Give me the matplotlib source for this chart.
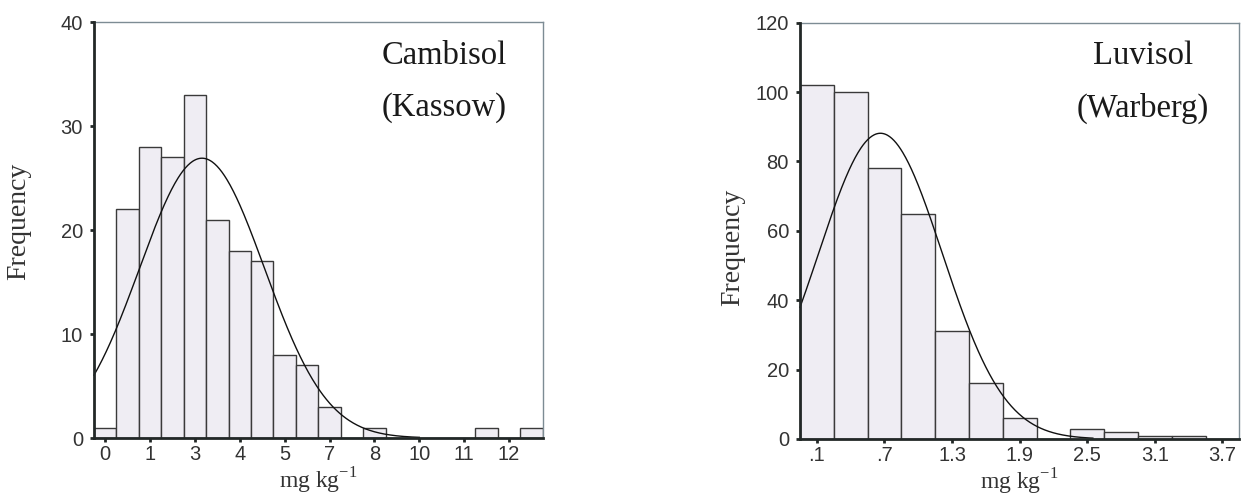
import numpy as np
import matplotlib
matplotlib.use("Agg")
import matplotlib.pyplot as plt

# ---------------- data ----------------
# Cambisol (Kassow)
left_counts = [1, 22, 28, 27, 33, 21, 18, 17, 8, 7, 3, 0, 1, 0, 0, 0, 0, 1, 0, 1]
left_bin_width = 0.7
left_first_center = -0.2
left_tick_labels = ['0', '1', '3', '4', '5', '7', '8', '10', '11', '12']
left_fit_mean = 2.82
left_fit_sd = 1.95
left_curve_end = 9.6

# Luvisol (Warberg)
right_counts = [102, 100, 78, 65, 31, 16, 6, 0, 3, 2, 1, 1, 0]
right_bin_width = 0.3
right_first_center = 0.1
right_tick_labels = ['.1', '.7', '1.3', '1.9', '2.5', '3.1', '3.7']
right_fit_mean = 0.664
right_fit_sd = 0.55
right_curve_end = 2.55

left_yticks = [0, 10, 20, 30, 40]
right_yticks = [0, 20, 40, 60, 80, 100, 120]

# ---------------- style ----------------
plt.rcParams['mathtext.fontset'] = 'custom'
plt.rcParams['mathtext.rm'] = 'Liberation Serif'

SANS = 'Liberation Sans'
SERIF = 'Liberation Serif'
BAR_FILL = '#efedf3'
BAR_EDGE = '#3a3a3a'
DARK = '#222827'
LIGHT_SPINE = '#7d8c94'
TICK_TXT = '#333333'

fig = plt.figure(figsize=(12.45, 4.95), dpi=100)
ax_l = fig.add_axes([94 / 1245, (495 - 438) / 495, 448.7 / 1245, 415.7 / 495])
ax_r = fig.add_axes([800 / 1245, (495 - 439) / 495, 439.3 / 1245, 416.3 / 495])


def draw(ax, counts, width, first_center, tick_labels, yticks, mean, sd,
         curve_end, title1, title2, ylab_x, ylab_y):
    n_bins = len(counts)
    centers = first_center + width * np.arange(n_bins)
    ax.bar(centers, counts, width=width, color=BAR_FILL, edgecolor=BAR_EDGE,
           linewidth=1.0, zorder=2)
    x0 = first_center - width / 2
    x1 = first_center + width * (n_bins - 0.5)
    ax.set_xlim(x0, x1)
    ax.set_ylim(yticks[0], yticks[-1])

    n_total = sum(counts)
    xs = np.linspace(x0, curve_end, 400)
    ys = n_total * width / (sd * np.sqrt(2 * np.pi)) * np.exp(-(xs - mean) ** 2 / (2 * sd ** 2))
    ax.plot(xs, ys, color='#111111', linewidth=1.0, zorder=3, clip_on=False)

    tick_pos = first_center + 2 * width * np.arange(len(tick_labels))
    ax.set_xticks(tick_pos)
    ax.set_xticklabels(tick_labels, fontfamily=SANS, fontsize=14.5, color=TICK_TXT)
    ax.set_yticks(yticks)
    ax.set_yticklabels([str(v) for v in yticks], fontfamily=SANS, fontsize=14.5,
                       color=TICK_TXT)
    ax.tick_params(axis='both', direction='out', length=3, width=2, color=DARK)
    ax.tick_params(axis='x', pad=2)
    ax.tick_params(axis='y', pad=5)

    for s in ('left', 'bottom'):
        ax.spines[s].set_linewidth(2.0)
        ax.spines[s].set_color(DARK)
        ax.spines[s].set_zorder(4)
    for s in ('top', 'right'):
        ax.spines[s].set_linewidth(1.0)
        ax.spines[s].set_color(LIGHT_SPINE)

    ax.set_xlabel(r'mg kg$^{\mathregular{-1}}$', fontfamily=SERIF, fontsize=17,
                  color=TICK_TXT, labelpad=1)
    ax.set_ylabel('Frequency', fontfamily=SERIF, fontsize=20, color=TICK_TXT)
    ax.yaxis.set_label_coords(ylab_x, ylab_y)

    ax.text(0.78, 0.92, title1, transform=ax.transAxes, ha='center', va='center',
            fontfamily=SERIF, fontsize=23.5, color='#1a1a1a')
    ax.text(0.78, 0.795, title2, transform=ax.transAxes, ha='center', va='center',
            fontfamily=SERIF, fontsize=23.5, color='#1a1a1a')


draw(ax_l, left_counts, left_bin_width, left_first_center, left_tick_labels,
     left_yticks, left_fit_mean, left_fit_sd, left_curve_end,
     'Cambisol', '(Kassow)', -0.14, 0.52)
draw(ax_r, right_counts, right_bin_width, right_first_center, right_tick_labels,
     right_yticks, right_fit_mean, right_fit_sd, right_curve_end,
     'Luvisol', '(Warberg)', -0.125, 0.46)

fig.savefig('out.png', dpi=100)
